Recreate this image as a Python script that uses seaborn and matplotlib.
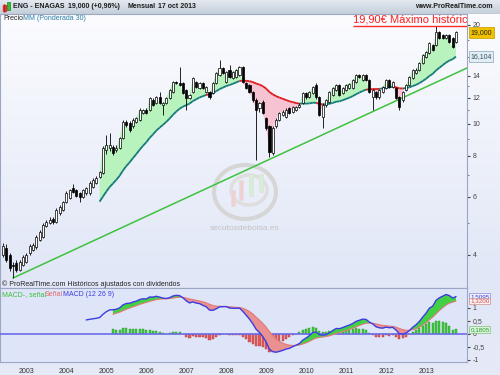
import numpy as np
import pandas as pd
import matplotlib
matplotlib.use("Agg")
import matplotlib.pyplot as plt
import seaborn as sns
from matplotlib.colors import LinearSegmentedColormap
from matplotlib.collections import LineCollection
from matplotlib.ticker import FixedLocator, NullFormatter, FixedFormatter
from matplotlib.patches import Rectangle, Ellipse
import matplotlib.transforms as mtransforms

sns.set_style("white")
plt.rcParams['font.family'] = ['Liberation Sans', 'DejaVu Sans']

# ---------------- data (monthly OHLC, Jun 2002 - Oct 2013) ----------------
months = pd.period_range("2002-06", "2013-10", freq="M")
opens = [4.00, 4.20, 4.00, 3.73, 3.78, 3.60, 3.73, 3.81, 4.05, 4.14,
         4.23, 4.44, 4.53, 4.90, 5.00, 5.13, 5.03, 5.36, 5.47, 5.79,
         5.95, 6.38, 6.29, 6.16, 5.99, 6.16, 6.16, 6.42, 6.62, 6.88,
         7.09, 8.34, 8.46, 8.52, 8.34, 8.46, 9.07, 10.15, 10.10, 9.83,
         10.15, 10.29, 10.81, 11.03, 11.03, 11.83, 11.59, 12.08, 11.43, 11.59,
         12.00, 12.51, 13.42, 13.33, 13.33, 12.69, 12.00, 12.50, 13.42, 12.87,
         13.33, 12.51, 12.51, 12.43, 13.33, 14.09, 14.80, 13.42, 14.60, 13.80,
         13.90, 14.09, 14.90, 13.33, 13.14, 12.51, 11.83, 11.19, 11.67, 10.40,
         9.83, 8.17, 9.83, 10.29, 10.65, 10.51, 11.19, 10.88, 11.03, 11.27,
         11.59, 12.43, 12.08, 12.43, 13.14, 12.08, 10.51, 11.43, 11.67, 12.25,
         12.69, 13.14, 12.43, 12.69, 12.87, 12.87, 13.42, 14.09, 13.61, 14.09,
         13.61, 12.08, 12.51, 12.08, 12.51, 12.87, 13.61, 12.96, 12.87, 12.08,
         11.83, 12.69, 13.14, 13.80, 14.29, 14.60, 15.33, 15.99, 16.44, 17.39,
         17.39, 19.04, 18.65, 18.26, 18.65, 18.26, 17.76]
highs = [4.35, 4.30, 4.05, 3.80, 3.85, 3.86, 4.00, 4.06, 4.32, 4.35,
         4.60, 4.75, 5.00, 5.10, 5.20, 5.20, 5.55, 5.65, 5.85, 6.25,
         6.35, 6.55, 6.35, 6.22, 6.35, 6.45, 6.70, 6.85, 6.95, 7.20,
         8.55, 9.26, 9.39, 8.65, 8.60, 9.15, 10.25, 10.30, 10.20, 10.40,
         10.50, 11.15, 11.10, 11.15, 12.10, 12.00, 12.20, 12.51, 11.70, 12.10,
         12.80, 13.55, 13.55, 14.90, 13.45, 12.80, 12.35, 13.90, 13.55, 13.45,
         13.45, 13.05, 12.60, 13.45, 14.40, 15.66, 14.95, 14.50, 15.12, 14.50,
         14.70, 15.00, 15.00, 13.45, 13.25, 12.60, 12.00, 11.70, 11.80, 10.50,
         9.95, 9.85, 10.40, 10.90, 11.00, 11.15, 11.30, 11.35, 11.35, 11.55,
         12.55, 12.55, 12.60, 13.05, 13.30, 12.15, 11.55, 11.95, 12.60, 12.95,
         13.25, 13.25, 12.95, 13.25, 13.35, 13.70, 14.20, 14.20, 14.20, 14.20,
         13.70, 12.80, 12.60, 12.80, 13.05, 13.70, 13.70, 13.55, 12.95, 12.15,
         12.60, 13.25, 14.00, 14.70, 14.75, 15.45, 16.35, 16.70, 17.80, 17.55,
         19.90, 19.20, 18.80, 18.80, 18.80, 18.40, 19.20]
lows = [3.94, 3.80, 3.58, 3.40, 3.55, 3.56, 3.70, 3.78, 4.00, 4.10,
        4.18, 4.40, 4.50, 4.85, 4.95, 4.98, 5.00, 5.30, 5.42, 5.75,
        5.90, 6.15, 5.98, 5.80, 5.95, 6.10, 6.10, 6.38, 6.55, 6.85,
        7.05, 8.10, 8.30, 8.05, 8.20, 8.40, 9.00, 9.80, 9.45, 9.75,
        10.05, 10.20, 10.75, 10.70, 10.95, 11.35, 11.50, 11.50, 10.65, 11.50,
        11.90, 12.45, 13.20, 13.00, 12.30, 11.00, 11.90, 12.40, 12.85, 12.80,
        12.75, 12.40, 11.95, 12.35, 13.25, 14.00, 14.15, 13.30, 13.80, 13.70,
        13.80, 14.00, 13.30, 12.75, 12.40, 11.70, 7.77, 10.90, 10.70, 9.60,
        7.94, 8.05, 9.75, 10.20, 10.55, 10.45, 10.70, 10.80, 10.95, 11.20,
        11.50, 11.95, 12.00, 12.35, 11.95, 10.55, 9.73, 11.30, 11.60, 12.15,
        12.60, 12.15, 12.35, 12.60, 12.80, 12.80, 13.35, 13.80, 13.50, 13.50,
        12.40, 11.03, 11.95, 11.95, 12.40, 12.80, 12.85, 12.85, 11.90, 11.03,
        11.70, 12.60, 13.05, 13.70, 14.20, 14.50, 15.25, 15.90, 16.35, 16.65,
        17.30, 18.10, 18.10, 18.10, 17.60, 17.00, 17.65]
closes = [4.26, 3.86, 3.65, 3.70, 3.60, 3.81, 3.94, 4.00, 4.26, 4.29,
          4.53, 4.69, 4.93, 5.03, 5.10, 5.03, 5.47, 5.59, 5.79, 6.16,
          6.29, 6.21, 6.03, 5.99, 6.29, 6.38, 6.62, 6.75, 6.85, 7.13,
          8.46, 8.64, 8.64, 8.17, 8.46, 9.07, 10.15, 9.90, 9.59, 10.29,
          10.40, 11.03, 11.03, 10.81, 12.00, 11.43, 12.08, 11.59, 11.59, 12.00,
          12.69, 13.42, 13.33, 13.14, 12.43, 12.00, 12.25, 13.75, 12.96, 13.33,
          12.87, 12.96, 12.08, 13.33, 14.29, 14.80, 14.29, 14.39, 13.90, 14.39,
          14.60, 14.90, 13.42, 12.87, 12.51, 11.83, 11.03, 11.59, 10.81, 9.73,
          8.23, 9.73, 10.29, 10.81, 10.88, 11.03, 10.81, 11.27, 11.27, 11.43,
          12.43, 12.08, 12.51, 12.96, 12.08, 10.65, 11.43, 11.83, 12.51, 12.87,
          13.14, 12.25, 12.87, 13.14, 13.24, 13.61, 14.09, 13.90, 14.09, 13.61,
          12.51, 12.69, 12.08, 12.69, 12.96, 13.61, 12.96, 13.42, 12.00, 11.27,
          12.51, 13.14, 13.90, 14.60, 14.60, 15.33, 16.21, 16.55, 17.64, 16.79,
          19.04, 18.26, 18.26, 18.65, 17.76, 17.15, 19.00]
trend_prices = [3.40, 14.80]          # support line: Sep 2002 low -> right edge
max_price = 19.90
ma_period = 30
macd_fast, macd_slow, macd_sig = 12, 26, 9
main_ticks = [4, 6, 8, 10, 12, 14, 20]
main_minor = [5, 7, 9, 11, 13, 16, 18]
macd_ticks = [1, 0.5, 0, -0.5, -1]
macd_tick_labels = ["1", "0,5", "0", "-0,5", "-1"]
ma_label = "16,104"
macd_labels = ["1,5095", "1,3200", "0,1805"]

# ---------------- derived ----------------
df = pd.DataFrame({"open": opens, "high": highs, "low": lows, "close": closes})
n = len(df)
idx = np.arange(n)
o = df["open"].to_numpy(); c = df["close"].to_numpy()
h = df["high"].to_numpy(); l = df["low"].to_numpy()

w = np.arange(1, ma_period + 1)
wma = df["close"].rolling(ma_period).apply(lambda x: np.dot(x, w) / w.sum(), raw=True).to_numpy()

ema_f = df["close"].ewm(span=macd_fast, adjust=False).mean()
ema_s = df["close"].ewm(span=macd_slow, adjust=False).mean()
macd = (ema_f - ema_s).to_numpy()
macd[:macd_slow - 1] = np.nan
sig = pd.Series(macd).ewm(span=macd_sig, adjust=False).mean().to_numpy()
sig[:macd_slow + macd_sig - 2] = np.nan
hist = macd - sig

W, H = 500, 375
fx = lambda px: px / W
fy = lambda py: 1 - py / H

fig = plt.figure(figsize=(5, 3.75), dpi=100)

# background gradient
bg = fig.add_axes([0, 0, 1, 1], zorder=-10)
bgcmap = LinearSegmentedColormap.from_list("bg", [(0, "#fdfdff"), (0.74, "#e1e7f7"), (1, "#e6eaf7")])
bg.imshow(np.linspace(0, 1, 300).reshape(-1, 1), cmap=bgcmap, aspect="auto", extent=[0, 1, 0, 1])
bg.set_axis_off()

# header bar
hd = fig.add_axes([0, fy(14), 1, 14 / H], zorder=5)
hdcmap = LinearSegmentedColormap.from_list("hd", ["#e3e9ef", "#c4cfdb"])
hd.imshow(np.linspace(0, 1, 50).reshape(-1, 1), cmap=hdcmap, aspect="auto", extent=[0, 500, 0, 14])
hd.set_xlim(0, 500); hd.set_ylim(0, 14)
hd.add_patch(Rectangle((2.5, 3), 3, 6, color="#e03030"))
hd.add_patch(Rectangle((7, 4), 3, 8, facecolor="#30c030", edgecolor="#208020", lw=0.5))
hd.plot([4, 4], [2, 10], color="#a02020", lw=0.5)
for xx, txt in [(13, "ENG - ENAGAS"), (68, "19,000 (+0,96%)"), (127, "Mensual"), (158, "17 oct 2013")]:
    hd.text(xx, 7, txt, fontsize=5, fontweight="bold", color="#1c1c1c", va="center", ha="left")
hd.text(493, 7, "www.ProRealTime.com", fontsize=5, fontweight="bold", color="#1c1c1c", va="center", ha="right")
hd.axhline(0.3, color="#8e9cae", lw=0.8)
hd.set_axis_off()

# faint watermark logo (decoration)
lg = fig.add_axes([fx(205), fy(240), fx(80), 80 / H], zorder=-5)
lg.set_xlim(0, 80); lg.set_ylim(0, 80)
lg.add_patch(Ellipse((40, 48), 62, 54, fill=False, ec="#d6d6d6", lw=3))
lg.add_patch(Ellipse((44, 50), 36, 30, fill=False, ec="#dedede", lw=2.5))
for xx, y0, hh, col in [(26, 34, 16, "#f0d0d0"), (34, 40, 20, "#f0d0d0"), (44, 44, 22, "#d4efd4"), (54, 48, 18, "#d4efd4")]:
    lg.add_patch(Rectangle((xx, y0), 4, hh, fc=col, ec="#e0e0e0", lw=0.5))
lg.text(40, 12, "secutosdebolsa.es", color="#c2c2c2", fontsize=6, ha="center", va="center")
lg.set_axis_off()

# main price panel
ax = fig.add_axes([0, fy(288), fx(467), (288 - 14) / H])
ax.set_facecolor("none")
ax.set_yscale("log")
xl = (-0.9, 139.3)

valid = ~np.isnan(wma)
xi, cv, mv = idx[valid], c[valid], wma[valid]
ax.fill_between(xi, cv, mv, where=cv >= mv, interpolate=True, color="#b8f2bd", lw=0, zorder=1)
ax.fill_between(xi, cv, mv, where=cv < mv, interpolate=True, color="#f6c3d2", lw=0, zorder=1)
pts = np.column_stack([xi, mv])
segs = np.stack([pts[:-1], pts[1:]], axis=1)
state = (cv >= mv)[1:]
lc = LineCollection(segs, colors=np.where(state, "#137c78", "#e01a1a"), linewidths=1.3, zorder=2)
ax.add_collection(lc)

# support trend line
tl = pd.DataFrame({"x": [3, xl[1]], "y": trend_prices})
sns.lineplot(data=tl, x="x", y="y", ax=ax, color="#3ec23e", lw=1.1, zorder=2.5)

# candles
up = c >= o
bottom = np.minimum(o, c)
height = np.maximum(np.abs(c - o), bottom * 0.006)
ax.vlines(idx, l, h, color="black", lw=0.6, zorder=3)
ax.bar(idx[up], height[up], bottom=bottom[up], width=0.62, color="white", edgecolor="black", lw=0.5, zorder=4)
ax.bar(idx[~up], height[~up], bottom=bottom[~up], width=0.62, color="black", edgecolor="black", lw=0.5, zorder=4)

# max annotation
ax.hlines(max_price, 105, xl[1], color="#ff2a2a", lw=1.0, zorder=5)
ax.text(105, max_price * 1.012, "19,90€ Máximo histórico", color="#ff2020", fontsize=8,
        ha="left", va="bottom", zorder=6, clip_on=True)

ax.set_xlim(*xl)
ax.set_ylim(3.17, 21.6)
ax.yaxis.tick_right()
ax.yaxis.set_major_locator(FixedLocator(main_ticks))
ax.yaxis.set_major_formatter(FixedFormatter([str(t) for t in main_ticks]))
ax.yaxis.set_minor_locator(FixedLocator(main_minor))
ax.yaxis.set_minor_formatter(NullFormatter())
ax.tick_params(axis="y", which="major", labelsize=5, length=2.5, pad=1.5, colors="#444444", direction="out")
ax.tick_params(axis="y", which="minor", length=1.5, colors="#666666", direction="out")
ax.tick_params(axis="x", length=0, labelbottom=False)
for s in ax.spines.values():
    s.set_color("#9aa6c2"); s.set_linewidth(0.8)
ax.set_xlabel(""); ax.set_ylabel("")

bt = mtransforms.blended_transform_factory(ax.transAxes, ax.transData)
ax.text(1.007, c[-1], "19,000", transform=bt, fontsize=5, ha="left", va="center", color="#222222",
        bbox=dict(boxstyle="square,pad=0.25", fc="#f2c200", ec="#c09a00", lw=0.5), clip_on=False)
ax.text(1.007, wma[-1], ma_label, transform=bt, fontsize=5, ha="left", va="center", color="#335566",
        bbox=dict(boxstyle="square,pad=0.25", fc="#e2edf5", ec="#8aa4bb", lw=0.5), clip_on=False)

fig.text(fx(3), fy(19), "Precio", fontsize=5, color="#222222", va="center")
fig.text(fx(23), fy(19), "MM (Ponderada 30)", fontsize=5, color="#2a7fa6", va="center")
fig.text(fx(2), fy(284), "© ProRealTime.com Históricos ajustados con dividendos", fontsize=5, color="#222222", va="center")

# MACD panel
ax2 = fig.add_axes([0, fy(362), fx(467), (362 - 288) / H])
ax2.set_facecolor("#dfe5f8")
ax2.bar(idx, hist, width=0.62, color=np.where(hist >= 0, "#3ec83e", "#e25a5a"),
        edgecolor=np.where(hist >= 0, "#249a24", "#b83a3a"), lw=0.3, zorder=2)
ax2.axhline(0, color="#6c6cea", lw=1.2, zorder=3)
ax2.fill_between(idx, macd, sig, where=macd >= sig, interpolate=True, color="#44d044", lw=0, zorder=4)
ax2.fill_between(idx, macd, sig, where=macd < sig, interpolate=True, color="#e99090", lw=0, zorder=4)
sns.lineplot(x=idx, y=sig, ax=ax2, color="#e07a7a", lw=0.8, zorder=5)
sns.lineplot(x=idx, y=macd, ax=ax2, color="#3b3be2", lw=1.0, zorder=6)
ax2.set_xlim(*xl)
ax2.set_ylim(-1.08, 1.77)
ax2.yaxis.tick_right()
ax2.set_yticks(macd_ticks)
ax2.set_yticklabels(macd_tick_labels)
jan = [i for i, m in enumerate(months) if m.month == 1]
ax2.set_xticks(jan)
ax2.set_xticklabels([str(months[i].year) for i in jan])
ax2.tick_params(axis="y", labelsize=5, length=2.5, pad=1.5, colors="#444444", direction="out")
ax2.tick_params(axis="x", labelsize=5, length=2, pad=2, colors="#333333", direction="out")
for s in ax2.spines.values():
    s.set_color("#9aa6c2"); s.set_linewidth(0.8)
ax2.set_xlabel(""); ax2.set_ylabel("")

bt2 = mtransforms.blended_transform_factory(ax2.transAxes, ax2.transData)
ax2.text(1.007, macd[-1], macd_labels[0], transform=bt2, fontsize=4.5, ha="left", va="center", color="#3b3be2",
         bbox=dict(boxstyle="square,pad=0.15", fc="#eef0fb", ec="#8a8ad0", lw=0.5), clip_on=False)
ax2.text(1.007, sig[-1], macd_labels[1], transform=bt2, fontsize=4.5, ha="left", va="center", color="#d05050",
         bbox=dict(boxstyle="square,pad=0.15", fc="#fbeeee", ec="#d09090", lw=0.5), clip_on=False)
ax2.text(1.007, hist[-1], macd_labels[2], transform=bt2, fontsize=4.5, ha="left", va="center", color="#2a9a2a",
         bbox=dict(boxstyle="square,pad=0.15", fc="#d9f5d9", ec="#80c080", lw=0.5), clip_on=False)

fig.text(fx(2), fy(295), "MACD-, señal", fontsize=5, color="#3cbf3c", va="center")
fig.text(fx(45), fy(295), "Señal", fontsize=5, color="#e06a6a", va="center")
fig.text(fx(63), fy(295), "MACD (12 26 9)", fontsize=5, color="#3b3be2", va="center")

fig.savefig("out.png", dpi=100)
